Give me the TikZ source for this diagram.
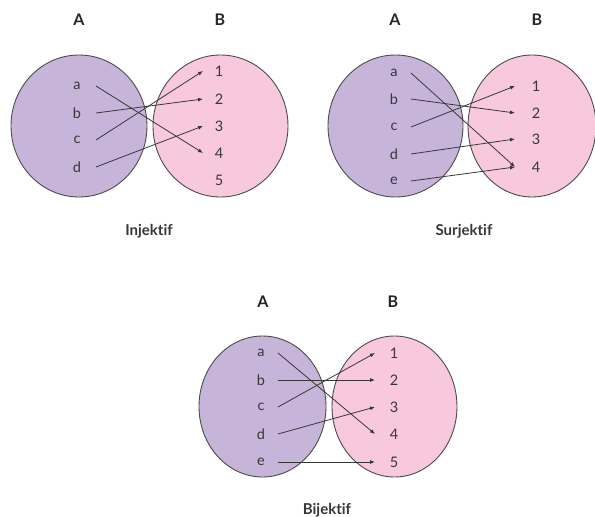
\documentclass[tikz,border=0pt]{standalone}
\usepackage{fontspec}
\setmainfont{Lato}[Ligatures=NoCommon]
\usetikzlibrary{arrows.meta}
\definecolor{setA}{RGB}{199,181,217}
\definecolor{setB}{RGB}{248,201,221}
\definecolor{ink}{RGB}{55,55,55}
\begin{document}
\begin{tikzpicture}[x=1pt,y=-1pt,
  setshape/.style={draw=ink!90,line width=0.9pt},
  elem/.style={font=\fontsize{14.5}{15}\selectfont,text=ink,inner sep=0pt},
  head/.style={font=\fontsize{16}{17}\selectfont\bfseries,text=black!85,inner sep=0pt},
  title/.style={font=\fontsize{15}{16}\selectfont\bfseries,text=ink,inner sep=0pt},
  arr/.style={-{Latex[length=5pt,width=4pt]},draw=ink,line width=0.8pt}]
\useasboundingbox (0,0) rectangle (595,517);

% ---------- Injektif ----------
\fill[setA] (79,126) ellipse [x radius=68,y radius=71];
\draw[setshape] (79,126) ellipse [x radius=68,y radius=71];
\fill[setB] (220.5,126) ellipse [x radius=67.5,y radius=71];
\draw[setshape] (220.5,126) ellipse [x radius=67.5,y radius=71];
\node[head] (iA) at (79,20) {A};
\node[head] (iB) at (220,20) {B};
\node[elem] (ia) at (77,86) {a};
\node[elem] (ib) at (77,113) {b};
\node[elem] (ic) at (77,140) {c};
\node[elem] (id) at (77,167) {d};
\node[elem] (i1) at (219,71) {1};
\node[elem] (i2) at (219,99) {2};
\node[elem] (i3) at (219,126) {3};
\node[elem] (i4) at (219,153) {4};
\node[elem] (i5) at (219,180) {5};
\draw[arr] ([xshift=19pt]ia.center) -- ([xshift=-16pt]i4.center);
\draw[arr] ([xshift=19pt]ib.center) -- ([xshift=-16pt]i2.center);
\draw[arr] ([xshift=19pt]ic.center) -- ([xshift=-16pt]i1.center);
\draw[arr] ([xshift=19pt]id.center) -- ([xshift=-16pt]i3.center);
\node[title] (iT) at (149,231) {Injektif};

% ---------- Surjektif ----------
\fill[setA] (395.5,126) ellipse [x radius=67.5,y radius=71];
\draw[setshape] (395.5,126) ellipse [x radius=67.5,y radius=71];
\fill[setB] (532,126) ellipse [x radius=64,y radius=71];
\draw[setshape] (532,126) ellipse [x radius=64,y radius=71];
\node[head] (sA) at (395,20) {A};
\node[head] (sB) at (537,20) {B};
\node[elem] (sa) at (394,73) {a};
\node[elem] (sb) at (394,99) {b};
\node[elem] (sc) at (394,127) {c};
\node[elem] (sd) at (394,154) {d};
\node[elem] (se) at (394,181) {e};
\node[elem] (s1) at (536,86) {1};
\node[elem] (s2) at (536,113) {2};
\node[elem] (s3) at (536,139) {3};
\node[elem] (s4) at (536,167) {4};
\draw[arr] ([xshift=17pt]sa.center) -- ([xshift=-21pt]s4.center);
\draw[arr] ([xshift=17pt]sb.center) -- ([xshift=-21pt]s2.center);
\draw[arr] ([xshift=17pt]sc.center) -- ([xshift=-21pt]s1.center);
\draw[arr] ([xshift=17pt]sd.center) -- ([xshift=-21pt]s3.center);
\draw[arr] ([xshift=17pt]se.center) -- ([xshift=-21pt]s4.center);
\node[title] (sT) at (464,231) {Surjektif};

% ---------- Bijektif ----------
\fill[setA] (262.5,406.5) ellipse [x radius=63.5,y radius=70.5];
\draw[setshape] (262.5,406.5) ellipse [x radius=63.5,y radius=70.5];
\fill[setB] (394.5,406.5) ellipse [x radius=62.5,y radius=70.5];
\draw[setshape] (394.5,406.5) ellipse [x radius=62.5,y radius=70.5];
\node[head] (bA) at (263,302) {A};
\node[head] (bB) at (393,302) {B};
\node[elem] (ba) at (261,353) {a};
\node[elem] (bb) at (261,380) {b};
\node[elem] (bc) at (261,407) {c};
\node[elem] (bd) at (261,434) {d};
\node[elem] (be) at (261,462) {e};
\node[elem] (b1) at (394,353) {1};
\node[elem] (b2) at (394,380) {2};
\node[elem] (b3) at (394,407) {3};
\node[elem] (b4) at (394,434) {4};
\node[elem] (b5) at (394,462) {5};
\draw[arr] ([xshift=17pt]ba.center) -- ([xshift=-19pt]b4.center);
\draw[arr] ([xshift=17pt]bb.center) -- ([xshift=-19pt]b2.center);
\draw[arr] ([xshift=17pt]bc.center) -- ([xshift=-19pt]b1.center);
\draw[arr] ([xshift=17pt]bd.center) -- ([xshift=-19pt]b3.center);
\draw[arr] ([xshift=17pt]be.center) -- ([xshift=-19pt]b5.center);
\node[title] (bT) at (327,510) {Bijektif};
\end{tikzpicture}
\end{document}
